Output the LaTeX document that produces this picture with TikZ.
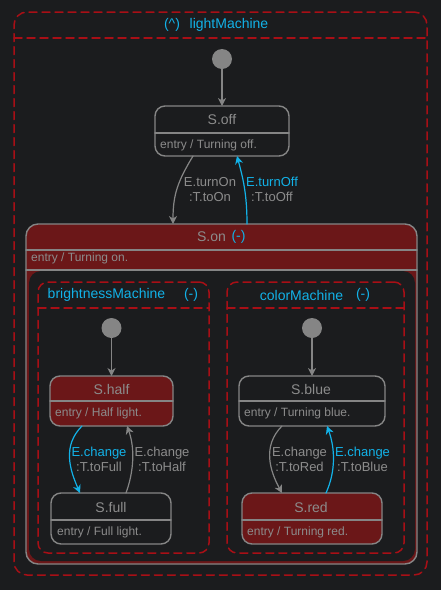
\documentclass[tikz,border=0pt]{standalone}
\usepackage{fontspec}
\setmainfont{Liberation Sans}
\usetikzlibrary{arrows.meta}
\definecolor{bgdark}{HTML}{1B1C1E}
\definecolor{rimred}{HTML}{A80F16}
\definecolor{fillred}{HTML}{6B1718}
\definecolor{linegray}{HTML}{858585}
\definecolor{txtgray}{HTML}{8C8C8C}
\definecolor{evblue}{HTML}{12B2E8}
\begin{document}
\begin{tikzpicture}[x=1pt,y=-1pt,line cap=round,line join=round,>={Stealth[length=8pt,width=8pt,inset=2.5pt]},
  machine/.style={draw=rimred,line width=1.5pt,dash pattern=on 8pt off 5pt,rounded corners=10pt,inner sep=0pt,outer sep=0pt},
  msep/.style={draw=rimred,line width=1.5pt,dash pattern=on 8pt off 5pt},
  stbox/.style={draw=linegray,line width=1.4pt,rounded corners=10pt,inner sep=0pt,outer sep=0pt,minimum height=50pt},
  ssep/.style={draw=linegray,line width=1.4pt},
  ini/.style={circle,fill=linegray,minimum size=20pt,inner sep=0pt},
  ttl/.style={text=txtgray,font=\fontsize{14}{16}\selectfont,inner sep=0pt},
  mttl/.style={text=evblue,font=\fontsize{14}{16}\selectfont,inner sep=0pt},
  ent/.style={text=txtgray,font=\fontsize{12}{14}\selectfont,inner sep=0pt,anchor=west},
  lbl/.style={text=txtgray,font=\fontsize{13}{15}\selectfont,align=center,inner sep=0pt},
  tr/.style={->,draw=linegray,line width=1.2pt},
  trb/.style={->,draw=evblue,line width=1.2pt}]
\fill[bgdark] (0,0) rectangle (441,590);
\useasboundingbox (0,0) rectangle (441,590);
\node[machine,rounded corners=13pt,minimum width=413pt,minimum height=563pt] (light) at (220.5,293.5) {};
\draw[msep] (light.west |- 0,38) -- (light.east |- 0,38);
\node[mttl] (light-c) at (172,25) {(\textasciicircum)};
\node[mttl] (light-t) at (229,25) {lightMachine};
\node[ini] (i0) at (222,59) {};
\node[stbox,minimum width=134pt] (off) at (222,131) {};
\draw[ssep] (off.west |- 0,133) -- (off.east |- 0,133);
\node[ttl] (off-t) at (222,119) {S.off};
\node[ent] (off-e) at (160,145) {entry / Turning off.};
\node[stbox,fill=fillred,rounded corners=12pt,minimum width=391pt,minimum height=340pt] (on) at (221.5,394) {};
\draw[ssep] (on.west |- 0,250) -- (on.east |- 0,250);
\draw[ssep] (on.west |- 0,270) -- (on.east |- 0,270);
\node[ttl] (on-t) at (211.5,237) {S.on};
\node[mttl] (on-c) at (238.5,237) {(-)};
\node[ent] (on-e) at (31,258) {entry / Turning on.};
\node[fill=bgdark,rounded corners=12pt,minimum width=386pt,minimum height=290pt,inner sep=0pt] (on-in) at (222,416) {};
\node[machine,minimum width=171pt,minimum height=271pt] (bright) at (123.5,417.5) {};
\draw[msep] (bright.west |- 0,308) -- (bright.east |- 0,308);
\node[mttl] (bright-t) at (106.5,295) {brightnessMachine};
\node[mttl] (bright-c) at (191,295) {(-)};
\node[machine,minimum width=177pt,minimum height=271pt] (color) at (315.5,417.5) {};
\draw[msep] (color.west |- 0,308) -- (color.east |- 0,308);
\node[mttl] (color-t) at (301.5,295) {colorMachine};
\node[mttl] (color-c) at (363,295) {(-)};
\node[ini] (i1) at (111.5,328) {};
\node[stbox,fill=fillred,minimum width=123pt] (half) at (111.5,401) {};
\draw[ssep] (half.west |- 0,401) -- (half.east |- 0,401);
\node[ttl] (half-t) at (111.5,389) {S.half};
\node[ent] (half-e) at (55,413) {entry / Half light.};
\node[stbox,minimum width=120pt,minimum height=51pt] (full) at (111,518.5) {};
\draw[ssep] (full.west |- 0,520) -- (full.east |- 0,520);
\node[ttl] (full-t) at (111,507) {S.full};
\node[ent] (full-e) at (57,532) {entry / Full light.};
\node[ini] (i2) at (312,328) {};
\node[stbox,minimum width=146pt] (blue) at (312,401) {};
\draw[ssep] (blue.west |- 0,401) -- (blue.east |- 0,401);
\node[ttl] (blue-t) at (311,389) {S.blue};
\node[ent] (blue-e) at (244,413) {entry / Turning blue.};
\node[stbox,fill=fillred,minimum width=140pt,minimum height=51pt] (red) at (312,518.5) {};
\draw[ssep] (red.west |- 0,520) -- (red.east |- 0,520);
\node[ttl] (red-t) at (311,507) {S.red};
\node[ent] (red-e) at (247,532) {entry / Turning red.};
\draw[tr] (i0) -- (off);
\draw[tr] (i1) -- (half);
\draw[tr] (i2) -- (blue);
\draw[tr] ([xshift=-29pt]off.south) .. controls +(-15,25) and +(0,-30) .. ([xshift=-48.5pt]on.north);
\draw[trb] ([xshift=25.5pt]on.north) .. controls +(0,-30) and +(6,22) .. ([xshift=15pt]off.south);
\draw[trb] ([xshift=-29.5pt]half.south) .. controls +(-20,20) and +(-10,-23) .. ([xshift=-31pt]full.north);
\draw[tr] ([xshift=15pt]full.north) .. controls +(8,-22) and +(8,22) .. ([xshift=15.5pt]half.south);
\draw[tr] ([xshift=-30pt]blue.south) .. controls +(-20,20) and +(-12,-22) .. ([xshift=-30pt]red.north);
\draw[trb] ([xshift=14pt]red.north) .. controls +(10,-22) and +(8,22) .. ([xshift=15pt]blue.south);
\node[lbl] (l-on) at (210,189.5) {E.turnOn\\:T.toOn};
\node[lbl] (l-off) at (272,189.5) {\textcolor{evblue}{E.turnOff}\\:T.toOff};
\node[lbl] (l-full) at (99,459.5) {\textcolor{evblue}{E.change}\\:T.toFull};
\node[lbl] (l-half) at (162,459.5) {E.change\\:T.toHalf};
\node[lbl] (l-red) at (299.5,459.5) {E.change\\:T.toRed};
\node[lbl] (l-blue) at (362.5,459.5) {\textcolor{evblue}{E.change}\\:T.toBlue};
\end{tikzpicture}
\end{document}
